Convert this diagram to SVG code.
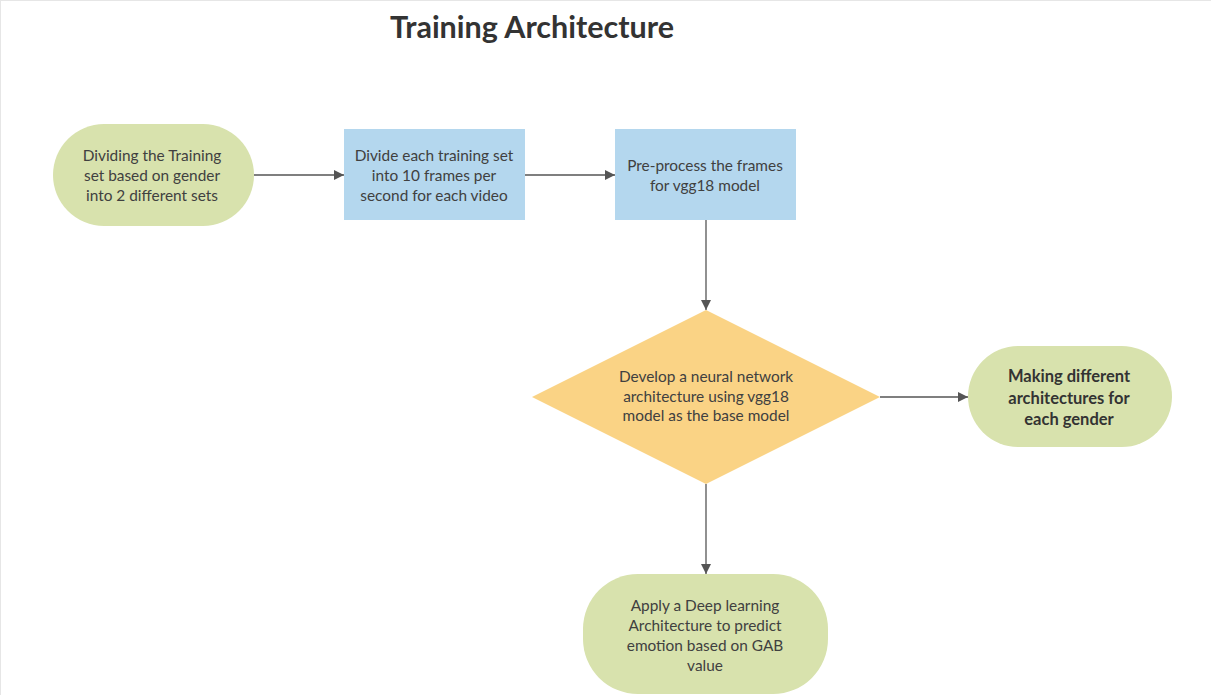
<svg xmlns="http://www.w3.org/2000/svg" width="1211" height="695" viewBox="0 0 1211 695">
<style>
.t{font-family:Lato,"Open Sans",sans-serif;font-size:15.4px;fill:#404040;text-anchor:middle}
.b{font-weight:bold;font-size:16.5px;fill:#333}
.c{stroke:#555;stroke-width:1.3;fill:none}
.g{fill:#d8e2ad}
.bl{fill:#b4d7ee}
.y{fill:#fad385}
</style>
<defs>
<marker id="ah" viewBox="0 0 10 10" refX="10" refY="5" markerWidth="10" markerHeight="10" markerUnits="userSpaceOnUse" orient="auto">
<path d="M0,0 L10,5 L0,10 z" fill="#555"/>
</marker>
</defs>
<rect x="0.5" y="0.5" width="1211" height="695" fill="#fff" stroke="#e6e6e6"/>
<text x="532" y="38" style="font-family:Lato,'Open Sans',sans-serif;font-size:30.5px;font-weight:bold;fill:#333;text-anchor:middle">Training Architecture</text>
<g id="connectors">
<line class="c" x1="254" y1="175" x2="344" y2="175" marker-end="url(#ah)"/>
<line class="c" x1="525" y1="175" x2="615" y2="175" marker-end="url(#ah)"/>
<line class="c" x1="706" y1="220" x2="706" y2="310" marker-end="url(#ah)"/>
<line class="c" x1="880" y1="397" x2="968" y2="397" marker-end="url(#ah)"/>
<line class="c" x1="706" y1="484" x2="706" y2="574" marker-end="url(#ah)"/>
</g>
<g id="n1">
<rect class="g" x="53" y="124" width="201" height="102" rx="51"/>
<text class="t"><tspan x="152" y="161">Dividing the Training</tspan><tspan x="152" y="181">set based on gender</tspan><tspan x="152" y="201">into 2 different sets</tspan></text>
</g>
<g id="n2">
<rect class="bl" x="344" y="129" width="181" height="91"/>
<text class="t"><tspan x="434" y="161">Divide each training set</tspan><tspan x="434" y="181">into 10 frames per</tspan><tspan x="434" y="201">second for each video</tspan></text>
</g>
<g id="n3">
<rect class="bl" x="615" y="129" width="181" height="91"/>
<text class="t"><tspan x="705" y="171">Pre-process the frames</tspan><tspan x="705" y="191">for vgg18 model</tspan></text>
</g>
<g id="n4">
<polygon class="y" points="706,310 880,397 706,484 532,397"/>
<text class="t"><tspan x="706" y="382">Develop a neural network</tspan><tspan x="706" y="402">architecture using vgg18</tspan><tspan x="706" y="421">model as the base model</tspan></text>
</g>
<g id="n5">
<rect class="g" x="968" y="346" width="204" height="101" rx="50.5"/>
<text class="t b"><tspan x="1069" y="382">Making different</tspan><tspan x="1069" y="404">architectures for</tspan><tspan x="1069" y="425">each gender</tspan></text>
</g>
<g id="n6">
<rect class="g" x="583" y="574" width="245" height="120" rx="55"/>
<text class="t"><tspan x="705" y="611">Apply a Deep learning</tspan><tspan x="705" y="631">Architecture to predict</tspan><tspan x="705" y="651">emotion based on GAB</tspan><tspan x="705" y="671">value</tspan></text>
</g>
</svg>
